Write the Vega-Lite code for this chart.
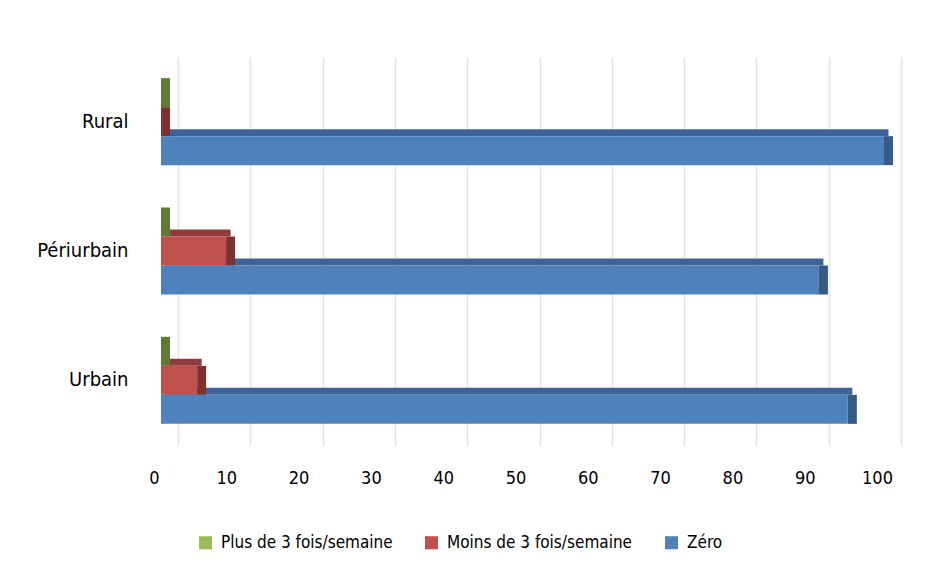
{
  "$schema": "https://vega.github.io/schema/vega-lite/v6.json",
  "width": 723,
  "height": 388,
  "autosize": "none",
  "padding": {"left": 161, "top": 57, "right": 63, "bottom": 131},
  "background": "white",
  "config": {
    "font": "DejaVu Sans Condensed",
    "view": {"stroke": null}
  },
  "data": {
    "values": [
      {"zone": "Rural", "serie": "Plus de 3 fois/semaine", "value": 0},
      {"zone": "Rural", "serie": "Moins de 3 fois/semaine", "value": 0},
      {"zone": "Rural", "serie": "Zéro", "value": 100},
      {"zone": "Périurbain", "serie": "Plus de 3 fois/semaine", "value": 0},
      {"zone": "Périurbain", "serie": "Moins de 3 fois/semaine", "value": 9},
      {"zone": "Périurbain", "serie": "Zéro", "value": 91},
      {"zone": "Urbain", "serie": "Plus de 3 fois/semaine", "value": 0},
      {"zone": "Urbain", "serie": "Moins de 3 fois/semaine", "value": 5},
      {"zone": "Urbain", "serie": "Zéro", "value": 95}
    ]
  },
  "encoding": {
    "y": {
      "field": "zone",
      "type": "nominal",
      "sort": ["Rural", "Périurbain", "Urbain"],
      "scale": {"paddingInner": 0.327, "paddingOuter": 0.1635},
      "axis": {
        "title": null,
        "domain": false,
        "ticks": false,
        "labelFontSize": 20,
        "labelColor": "#000000",
        "labelPadding": 33
      }
    },
    "x": {
      "field": "value",
      "type": "quantitative",
      "stack": null,
      "scale": {"domain": [0, 100], "nice": false, "zero": true},
      "axis": {
        "title": null,
        "domain": false,
        "ticks": false,
        "values": [0, 10, 20, 30, 40, 50, 60, 70, 80, 90, 100],
        "labelFontSize": 18,
        "labelColor": "#000000",
        "labelPadding": 24,
        "labelFlush": false,
        "labelOverlap": false,
        "tickOffset": 17,
        "labelOffset": -24,
        "grid": true,
        "gridColor": "#E4E4E4",
        "gridWidth": 1.5
      }
    }
  },
  "layer": [
    {
      "transform": [{"filter": "datum.serie === 'Plus de 3 fois/semaine'"}],
      "mark": {"type": "bar", "height": 7, "yOffset": -47, "xOffset": 4.5, "x2Offset": 4.5, "color": "#6E8C3A"},
      "encoding": {"x2": {"datum": 0}}
    },
    {
      "transform": [{"filter": "datum.serie === 'Moins de 3 fois/semaine'"}],
      "mark": {"type": "bar", "height": 7, "yOffset": -18, "xOffset": 4.5, "x2Offset": 4.5, "color": "#8F3C3A"},
      "encoding": {"x2": {"datum": 0}}
    },
    {
      "transform": [{"filter": "datum.serie === 'Zéro'"}],
      "mark": {"type": "bar", "height": 7, "yOffset": 11, "xOffset": 4.5, "x2Offset": 4.5, "color": "#3E6396"},
      "encoding": {"x2": {"datum": 0}}
    },
    {
      "mark": {"type": "tick", "thickness": 9, "size": 29, "xOffset": 4.5, "opacity": 1},
      "encoding": {
        "yOffset": {
          "field": "serie",
          "type": "nominal",
          "sort": ["Plus de 3 fois/semaine", "Moins de 3 fois/semaine", "Zéro"],
          "scale": {"paddingInner": 0, "paddingOuter": 0}
        },
        "color": {
          "field": "serie",
          "type": "nominal",
          "scale": {
            "domain": ["Plus de 3 fois/semaine", "Moins de 3 fois/semaine", "Zéro"],
            "range": ["#5F7A32", "#7D3230", "#375A86"]
          },
          "legend": null
        }
      }
    },
    {
      "mark": {"type": "bar"},
      "encoding": {
        "yOffset": {
          "field": "serie",
          "type": "nominal",
          "sort": ["Plus de 3 fois/semaine", "Moins de 3 fois/semaine", "Zéro"],
          "scale": {"paddingInner": 0, "paddingOuter": 0}
        },
        "color": {
          "field": "serie",
          "type": "nominal",
          "sort": ["Plus de 3 fois/semaine", "Moins de 3 fois/semaine", "Zéro"],
          "scale": {
            "domain": ["Plus de 3 fois/semaine", "Moins de 3 fois/semaine", "Zéro"],
            "range": ["#9BBB59", "#C0504D", "#4F81BD"]
          },
          "legend": {
            "title": null,
            "orient": "none",
            "direction": "horizontal",
            "legendX": 36,
            "legendY": 477,
            "symbolType": "square",
            "symbolSize": 169,
            "symbolStrokeWidth": 0,
            "labelFontSize": 17,
            "labelLimit": 400,
            "labelColor": "#000000",
            "labelOffset": 7,
            "columnPadding": 30
          }
        }
      }
    }
  ],
  "resolve": {"scale": {"color": "independent"}}
}
